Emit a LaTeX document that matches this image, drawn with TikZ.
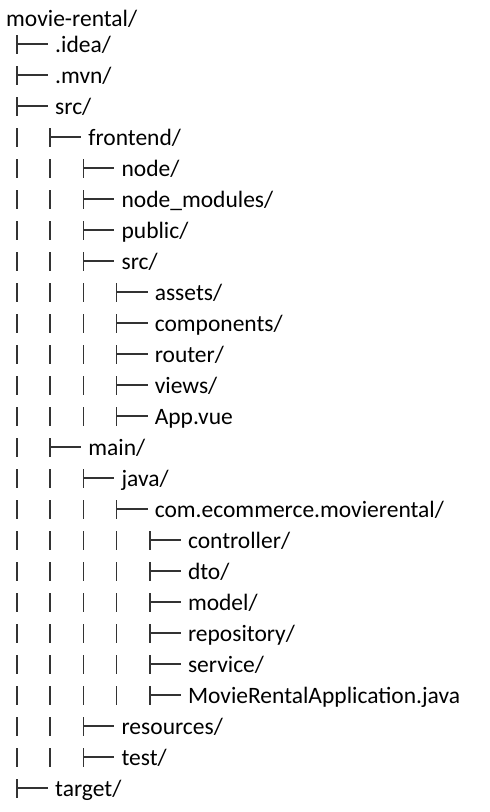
\documentclass[tikz,border=0pt]{standalone}
\usepackage{fontspec}
\setmainfont{Carlito}
\newcommand\treeentry[4]{%
  \pgfmathsetmacro\bb{52+31*(#3-1)}%
  \pgfmathsetmacro\bx{17+33.2*(#2-1)}%
  \node[lbl] (#1) at (\bx+38,\bb) {#4};
  \draw[tree] (\bx,\bb-17) -- (\bx,\bb+2) (\bx,\bb-8) -- (\bx+31,\bb-8);
  \ifnum#2>1
    \foreach \L in {2,...,#2} {%
      \pgfmathsetmacro\lx{17+33.2*(\L-2)}%
      \draw[tree] (\lx,\bb-17) -- (\lx,\bb+2);
    }%
  \fi
}
\begin{document}
\begin{tikzpicture}[x=1pt,y=-1pt,
  lbl/.style={anchor=base west, inner sep=0pt, font=\fontsize{23.5}{28}\selectfont, text=black},
  tree/.style={draw=black!80, line width=1.7pt}]
\useasboundingbox (0,0) rectangle (490,812);
\node[lbl] (root) at (6,26) {movie-rental/};
\treeentry{idea}{1}{1}{.idea/}
\treeentry{mvn}{1}{2}{.mvn/}
\treeentry{src}{1}{3}{src/}
\treeentry{frontend}{2}{4}{frontend/}
\treeentry{node}{3}{5}{node/}
\treeentry{nodemodules}{3}{6}{node\_modules/}
\treeentry{public}{3}{7}{public/}
\treeentry{fsrc}{3}{8}{src/}
\treeentry{assets}{4}{9}{assets/}
\treeentry{components}{4}{10}{components/}
\treeentry{router}{4}{11}{router/}
\treeentry{views}{4}{12}{views/}
\treeentry{appvue}{4}{13}{App.vue}
\treeentry{main}{2}{14}{main/}
\treeentry{java}{3}{15}{java/}
\treeentry{pkg}{4}{16}{com.ecommerce.movierental/}
\treeentry{controller}{5}{17}{controller/}
\treeentry{dto}{5}{18}{dto/}
\treeentry{model}{5}{19}{model/}
\treeentry{repository}{5}{20}{repository/}
\treeentry{service}{5}{21}{service/}
\treeentry{app}{5}{22}{MovieRentalApplication.java}
\treeentry{resources}{3}{23}{resources/}
\treeentry{test}{3}{24}{test/}
\treeentry{target}{1}{25}{target/}
\end{tikzpicture}
\end{document}
